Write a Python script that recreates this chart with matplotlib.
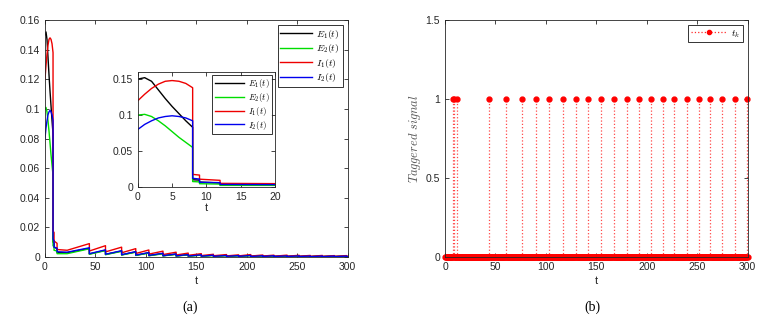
import numpy as np
import matplotlib
matplotlib.use("Agg")
import matplotlib.pyplot as plt
from matplotlib.lines import Line2D

plt.rcParams['font.family'] = ['Liberation Sans', 'DejaVu Sans']
plt.rcParams['mathtext.fontset'] = 'cm'

# ---- data (a) ----
t = [0, 1, 2, 3, 4, 5, 6, 7, 8,
     8, 9, 9, 12, 12, 22, 44,
     44, 60, 60, 76, 76, 90, 90, 103, 103, 117, 117, 130, 130, 142, 142, 155,
     155, 167, 167, 180, 180, 192, 192, 204, 204, 216, 216, 227, 227, 240,
     240, 252, 252, 263, 263, 275, 275, 287, 287, 299, 299, 300]

E1 = [0.150, 0.152, 0.147, 0.135, 0.123, 0.112, 0.102, 0.092, 0.083,
      0.0100, 0.0095, 0.0068, 0.0055, 0.0030, 0.0029, 0.0058,
      0.0020, 0.0045, 0.0017, 0.0040, 0.0014, 0.0034, 0.0011, 0.0028, 0.0009, 0.0023,
      0.0008, 0.0019, 0.0007, 0.0015, 0.0006, 0.0013,
      0.0005, 0.0011, 0.0004, 0.0010, 0.0004, 0.0009, 0.0004, 0.0010, 0.0003, 0.0008,
      0.0003, 0.0008, 0.0003, 0.0007, 0.0003, 0.0007, 0.0003, 0.0006, 0.0002, 0.0006,
      0.0002, 0.0006, 0.0002, 0.0006, 0.0002, 0.0002]

E2 = [0.100, 0.101, 0.098, 0.092, 0.085, 0.077, 0.069, 0.062, 0.055,
      0.0075, 0.0070, 0.0045, 0.0040, 0.0022, 0.0022, 0.0055,
      0.0018, 0.0043, 0.0015, 0.0038, 0.0013, 0.0032, 0.0010, 0.0026, 0.0008, 0.0021,
      0.0007, 0.0017, 0.0006, 0.0014, 0.0005, 0.0012,
      0.0004, 0.0010, 0.0004, 0.0009, 0.0003, 0.0008, 0.0003, 0.0009, 0.0003, 0.0007,
      0.0003, 0.0007, 0.0002, 0.0006, 0.0002, 0.0006, 0.0002, 0.0005, 0.0002, 0.0005,
      0.0002, 0.0005, 0.0002, 0.0005, 0.0002, 0.0002]

I1 = [0.120, 0.129, 0.137, 0.143, 0.147, 0.148, 0.147, 0.144, 0.138,
      0.0175, 0.0165, 0.0108, 0.0092, 0.0050, 0.0045, 0.0090,
      0.0040, 0.0076, 0.0034, 0.0066, 0.0028, 0.0056, 0.0023, 0.0047, 0.0019, 0.0039,
      0.0016, 0.0032, 0.0013, 0.0026, 0.0011, 0.0022,
      0.0009, 0.0018, 0.0008, 0.0016, 0.0007, 0.0014, 0.0007, 0.0016, 0.0006, 0.0013,
      0.0006, 0.0012, 0.0005, 0.0012, 0.0005, 0.0011, 0.0005, 0.0010, 0.0004, 0.0010,
      0.0004, 0.0009, 0.0004, 0.0009, 0.0004, 0.0004]

I2 = [0.080, 0.087, 0.092, 0.096, 0.098, 0.099, 0.098, 0.096, 0.092,
      0.0120, 0.0110, 0.0065, 0.0060, 0.0035, 0.0032, 0.0062,
      0.0022, 0.0048, 0.0018, 0.0042, 0.0015, 0.0036, 0.0012, 0.0030, 0.0010, 0.0025,
      0.0008, 0.0020, 0.0007, 0.0016, 0.0006, 0.0014,
      0.0005, 0.0012, 0.0004, 0.0010, 0.0004, 0.0009, 0.0004, 0.0010, 0.0003, 0.0008,
      0.0003, 0.0008, 0.0003, 0.0007, 0.0003, 0.0007, 0.0003, 0.0006, 0.0002, 0.0006,
      0.0002, 0.0006, 0.0002, 0.0006, 0.0002, 0.0002]

# ---- data (b) ----
events = [8, 9, 12, 44, 60, 76, 90, 103, 117, 130, 142, 155, 167, 180, 192,
          204, 216, 227, 240, 252, 263, 275, 287, 299]

series = [(E1, 'k', r'$E_1(t)$'), (E2, '#00dd00', r'$E_2(t)$'),
          (I1, '#ee0000', r'$I_1(t)$'), (I2, '#0000ee', r'$I_2(t)$')]

axcol = '#262626'

def style(ax):
    ax.tick_params(direction='in', top=True, right=True, labelsize=7.5,
                   colors=axcol, length=3, width=0.6)
    for s in ax.spines.values():
        s.set_color(axcol)
        s.set_linewidth(0.6)

fig = plt.figure(figsize=(7.7, 3.24), dpi=100)

# (a) main
ax = fig.add_axes([0.0584, 0.207, 0.393, 0.731])
for y, c, lab in series:
    ax.plot(t, y, color=c, lw=1.0, label=lab)
ax.set_xlim(0, 300)
ax.set_ylim(0, 0.16)
ax.set_xticks([0, 50, 100, 150, 200, 250, 300])
ax.set_yticks([0, 0.02, 0.04, 0.06, 0.08, 0.1, 0.12, 0.14, 0.16])
ax.set_yticklabels(['0', '0.02', '0.04', '0.06', '0.08', '0.1', '0.12', '0.14', '0.16'])
ax.set_xlabel('t', fontsize=8, color=axcol, labelpad=3)
style(ax)
leg = ax.legend(loc='upper right', fontsize=7, frameon=True, fancybox=False,
                edgecolor='k', borderaxespad=0.5, handlelength=3.2,
                labelspacing=0.15, borderpad=0.3, handletextpad=0.5)
leg.get_frame().set_linewidth(0.7)

# (a) inset
axi = fig.add_axes([0.179, 0.423, 0.178, 0.355])
for y, c, lab in series:
    axi.plot(t, y, color=c, lw=1.0, label=lab)
axi.set_xlim(0, 20)
axi.set_ylim(0, 0.16)
axi.set_xticks([0, 5, 10, 15, 20])
axi.set_yticks([0, 0.05, 0.1, 0.15])
axi.set_yticklabels(['0', '0.05', '0.1', '0.15'])
axi.set_xlabel('t', fontsize=8, color=axcol, labelpad=1)
style(axi)
leg2 = axi.legend(loc='upper right', fontsize=6.5, frameon=True, fancybox=False,
                  edgecolor='k', borderaxespad=0.3, handlelength=3.2,
                  labelspacing=0.1, borderpad=0.25, handletextpad=0.5)
leg2.get_frame().set_linewidth(0.7)

# (b)
axb = fig.add_axes([0.578, 0.207, 0.393, 0.731])
t_sig = np.arange(0, 300.5, 0.5)
sig = np.zeros_like(t_sig)
for e in events:
    sig[np.argmin(np.abs(t_sig - e))] = 1.0
ml, sl, bl = axb.stem(t_sig, sig, linefmt=':', markerfmt='.', basefmt=' ')
sl.set_color('#ff2a2a')
sl.set_alpha(0.85)
sl.set_linewidth(0.9)
ml.set_color('#ff0000')
ml.set_markersize(7)
ml.set_clip_on(False)
axb.set_xlim(0, 300)
axb.set_ylim(0, 1.5)
axb.set_xticks([0, 50, 100, 150, 200, 250, 300])
axb.set_yticks([0, 0.5, 1, 1.5])
axb.set_yticklabels(['0', '0.5', '1', '1.5'])
axb.set_xlabel('t', fontsize=8, color=axcol, labelpad=3)
axb.set_ylabel(r'$Taggered\ signal$', fontsize=9, color='#555555', labelpad=2)
style(axb)
h = Line2D([], [], color='#ff2a2a', ls=':', lw=0.9, marker='.', markersize=6,
           markerfacecolor='#ff0000', markeredgecolor='#ff0000')
leg3 = axb.legend([h], [r'$t_k$'], loc='upper right', fontsize=7, frameon=True,
                  fancybox=False, edgecolor='k', borderaxespad=0.5,
                  handlelength=3.6, borderpad=0.3, handletextpad=0.5)
leg3.get_frame().set_linewidth(0.7)

fig.text(0.247, 0.052, '(a)', fontsize=10, family='Liberation Serif', ha='center', va='center')
fig.text(0.769, 0.052, '(b)', fontsize=10, family='Liberation Serif', ha='center', va='center')

fig.savefig('out.png', dpi=100)
